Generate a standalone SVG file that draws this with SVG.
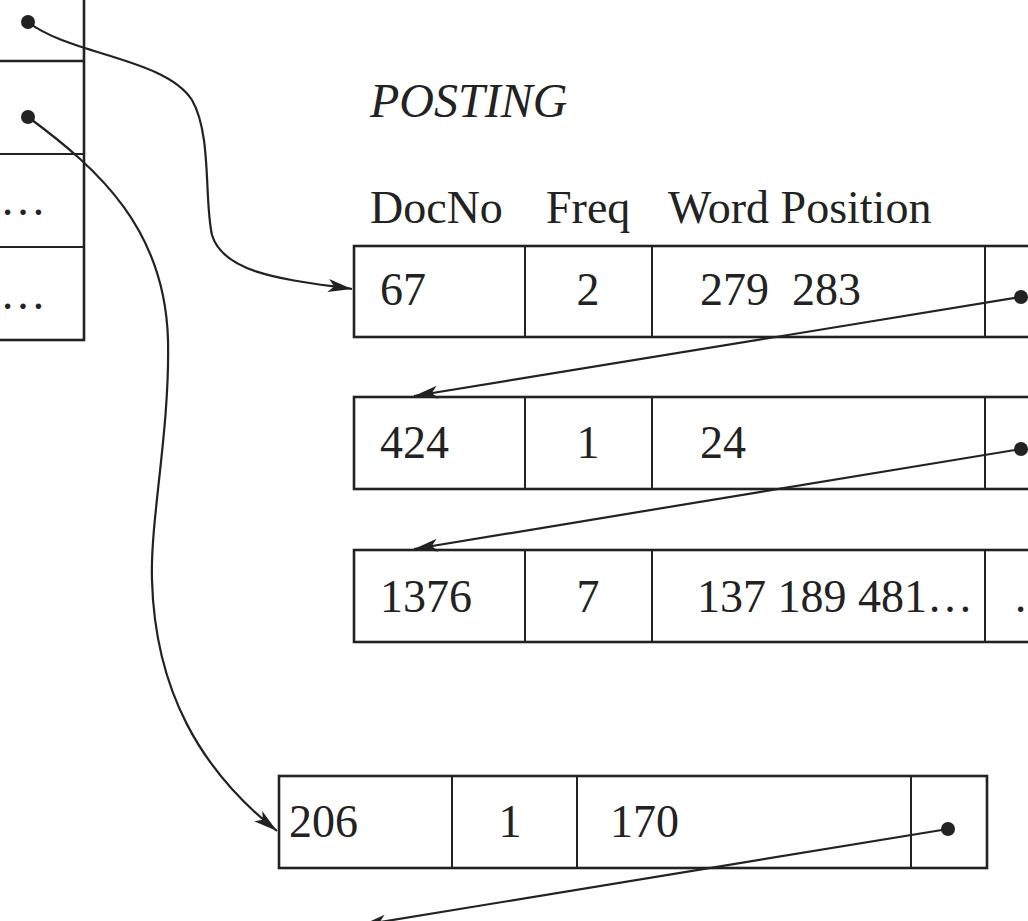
<svg xmlns="http://www.w3.org/2000/svg" width="1028" height="921" viewBox="0 0 1028 921">
<style>
.box{fill:none;stroke:#222;stroke-width:2.6}
.div{stroke:#222;stroke-width:2}
.t{font-family:"Liberation Serif","Times New Roman",serif;font-size:46px;fill:#222}
.ti{font-family:"Liberation Serif","Times New Roman",serif;font-size:48px;font-style:italic;fill:#222}
.conn{fill:none;stroke:#222;stroke-width:2.2}
.dot{fill:#222}
</style>
<defs>
<marker id="ah" markerWidth="26" markerHeight="14" refX="24" refY="7" orient="auto" markerUnits="userSpaceOnUse">
<path d="M0,0.5 L24,7 L0,13.5 L6,7 Z" fill="#222"/>
</marker>
</defs>
<rect width="1028" height="921" fill="#fff"/>

<g id="index">
<rect class="box" x="-10" y="-10" width="94" height="350"/>
<line class="div" x1="-10" y1="61" x2="84" y2="61" style="stroke-width:2.6"/>
<line class="div" x1="-10" y1="154" x2="84" y2="154"/>
<line class="div" x1="-10" y1="247" x2="84" y2="247"/>
<circle class="dot" cx="28" cy="22" r="7"/>
<circle class="dot" cx="28" cy="117" r="7"/>
<text class="t" x="0" y="215">…</text>
<text class="t" x="0" y="309">…</text>
</g>

<g id="headers">
<text class="ti" x="370" y="117">POSTING</text>
<text class="t" x="370" y="223">DocNo</text>
<text class="t" x="546" y="223">Freq</text>
<text class="t" x="668" y="223">Word Position</text>
</g>

<g id="posting1">
<rect class="box" x="354" y="246" width="720" height="91"/>
<line class="div" x1="525" y1="246" x2="525" y2="337"/>
<line class="div" x1="652" y1="246" x2="652" y2="337"/>
<line class="div" x1="985" y1="246" x2="985" y2="337"/>
<text class="t" x="380" y="305">67</text>
<text class="t" x="588" y="305" text-anchor="middle">2</text>
<text class="t" x="700" y="305" xml:space="preserve">279  283</text>
<circle class="dot" cx="1021" cy="297" r="7"/>
</g>

<g id="posting2">
<rect class="box" x="354" y="397" width="720" height="92"/>
<line class="div" x1="525" y1="397" x2="525" y2="489"/>
<line class="div" x1="652" y1="397" x2="652" y2="489"/>
<line class="div" x1="985" y1="397" x2="985" y2="489"/>
<text class="t" x="380" y="458">424</text>
<text class="t" x="588" y="458" text-anchor="middle">1</text>
<text class="t" x="700" y="458">24</text>
<circle class="dot" cx="1021" cy="449" r="7"/>
</g>

<g id="posting3">
<rect class="box" x="354" y="550" width="720" height="92"/>
<line class="div" x1="525" y1="550" x2="525" y2="642"/>
<line class="div" x1="652" y1="550" x2="652" y2="642"/>
<line class="div" x1="985" y1="550" x2="985" y2="642"/>
<text class="t" x="380" y="612">1376</text>
<text class="t" x="588" y="612" text-anchor="middle">7</text>
<text class="t" x="697" y="612">137 189 481…</text>
<text class="t" x="1013" y="612">…</text>
</g>

<g id="posting4">
<rect class="box" x="279" y="776" width="708" height="92"/>
<line class="div" x1="452" y1="776" x2="452" y2="868"/>
<line class="div" x1="577" y1="776" x2="577" y2="868"/>
<line class="div" x1="911" y1="776" x2="911" y2="868"/>
<text class="t" x="289" y="837">206</text>
<text class="t" x="510" y="837" text-anchor="middle">1</text>
<text class="t" x="610" y="837">170</text>
<circle class="dot" cx="948" cy="829" r="7"/>
</g>

<g id="connectors">
<path class="conn" d="M28,22 C70,55 165,58 192,100 C212,135 204,200 212,235 C224,275 290,280 352,289" marker-end="url(#ah)"/>
<path class="conn" d="M28,117 C100,170 165,230 168,340 C170,430 150,520 152,580 C155,690 200,770 277,831" marker-end="url(#ah)"/>
<line class="conn" x1="1021" y1="297" x2="414" y2="396" marker-end="url(#ah)"/>
<line class="conn" x1="1021" y1="449" x2="414" y2="549" marker-end="url(#ah)"/>
<line class="conn" x1="948" y1="829" x2="362" y2="925" marker-end="url(#ah)"/>
</g>
</svg>
